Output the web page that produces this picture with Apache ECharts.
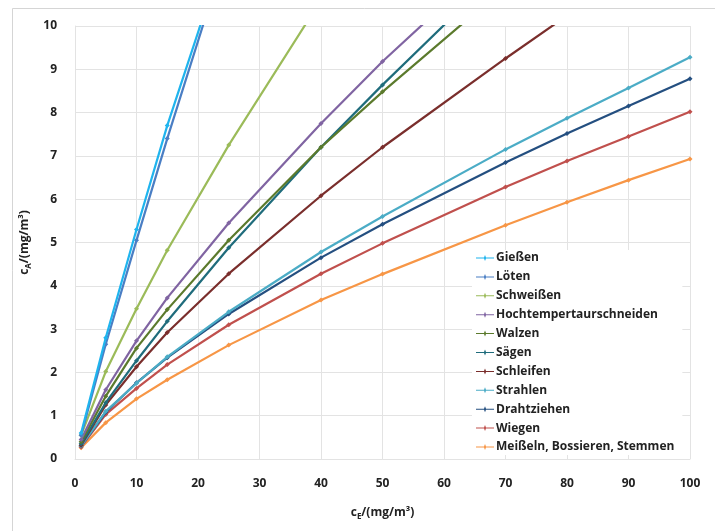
<!DOCTYPE html>
<html><head><meta charset="utf-8">
<script src="https://cdn.jsdelivr.net/npm/echarts@6/dist/echarts.min.js"></script>
<style>html,body{margin:0;padding:0;background:#fff}#c{width:715px;height:531px}</style>
</head><body><div id="c"></div>
<script>
const xValues = [1, 5, 10, 15, 25, 40, 50, 70, 80, 90, 100];
const seriesNames = ["Gießen","Löten","Schweißen","Hochtempertaurschneiden","Walzen","Sägen","Schleifen","Strahlen","Drahtziehen","Wiegen","Meißeln, Bossieren, Stemmen"];
const seriesColors = ["#1FB4EE","#4A7EC4","#9BBB59","#8064A2","#5B7A2C","#1F6C7C","#7A2E2C","#4BACC6","#244F80","#C0504D","#F79646"];
const giessen     = [0.60, 2.80, 5.30, 7.70, 12.0];
const loeten      = [0.55, 2.65, 5.05, 7.40, 11.9];
const schweissen  = [0.55, 2.02, 3.47, 4.82, 7.25, 10.6];
const hochtemp    = [0.45, 1.60, 2.73, 3.72, 5.45, 7.75, 9.18, 11.8];
const walzen      = [0.40, 1.45, 2.56, 3.45, 5.05, 7.20, 8.48, 10.9];
const saegen      = [0.35, 1.30, 2.27, 3.18, 4.88, 7.20, 8.64, 11.4];
const schleifen   = [0.32, 1.25, 2.13, 2.92, 4.28, 6.08, 7.20, 9.25, 10.24];
const strahlen    = [0.30, 1.10, 1.75, 2.36, 3.40, 4.78, 5.60, 7.15, 7.87, 8.57, 9.28];
const drahtziehen = [0.30, 1.08, 1.76, 2.34, 3.35, 4.65, 5.42, 6.85, 7.52, 8.15, 8.78];
const wiegen      = [0.28, 1.03, 1.63, 2.18, 3.10, 4.28, 4.98, 6.28, 6.88, 7.45, 8.02];
const meisseln    = [0.26, 0.84, 1.39, 1.83, 2.63, 3.67, 4.27, 5.40, 5.93, 6.44, 6.93];
const allValues = [giessen, loeten, schweissen, hochtemp, walzen, saegen, schleifen, strahlen, drahtziehen, wiegen, meisseln];
const xTicks = [0,10,20,30,40,50,60,70,80,90,100];
const yTicks = [0,1,2,3,4,5,6,7,8,9,10];

const FONT = '"Open Sans", "Noto Sans", sans-serif';
const chart = echarts.init(document.getElementById('c'), null, {renderer: 'canvas'});
const series = seriesNames.map((n, i) => ({
  name: n, type: 'line', clip: true,
  data: allValues[i].map((v, k) => [xValues[k], v]),
  symbol: 'diamond', symbolSize: 5, showSymbol: true,
  lineStyle: {width: 2.2, color: seriesColors[i]},
  itemStyle: {color: seriesColors[i]},
  emphasis: {disabled: true}, animation: false, z: 3 + (seriesNames.length - i)
}));
chart.setOption({
  animation: false,
  backgroundColor: '#fff',
  textStyle: {fontFamily: FONT},
  graphic: [{type: 'rect', shape: {x: 12.5, y: 8.5, width: 720, height: 540}, style: {fill: 'none', stroke: '#D5D5D5', lineWidth: 1}, z: -1}],
  grid: {left: 75, right: 25, top: 26, bottom: 72, containLabel: false},
  legend: {
    orient: 'vertical', left: 472, top: 250, itemGap: 6.9, itemWidth: 18, itemHeight: 12,
    backgroundColor: '#fff', padding: [2, 8, 2, 4],
    data: seriesNames.map((n, i) => ({name: n, icon: 'path://M0,5.5 L8,5.5 L9,3 L10,5.5 L18,5.5 L18,6.5 L10,6.5 L9,9 L8,6.5 L0,6.5 Z', itemStyle: {color: seriesColors[i]}})),
    textStyle: {fontFamily: FONT, fontWeight: 'bold', fontSize: 12, color: '#222', padding: [0,0,0,-3]}
  },
  xAxis: {
    type: 'value', min: xTicks[0], max: xTicks[xTicks.length-1], interval: 10,
    name: 'c{s|E}/(mg/m³)', nameLocation: 'middle', nameGap: 46,
    nameTextStyle: {fontFamily: FONT, fontWeight: 'bold', fontSize: 12, color: '#222',
      rich: {s: {fontSize: 8, fontWeight: 'bold', color: '#222', verticalAlign: 'bottom', padding: [8,0,0,0]}}},
    axisLine: {show: true, lineStyle: {color: '#E3E3E3'}},
    axisTick: {show: false},
    axisLabel: {fontFamily: FONT, fontWeight: 'bold', fontSize: 12, color: '#222', margin: 19},
    splitLine: {show: true, lineStyle: {color: '#E3E3E3'}}
  },
  yAxis: {
    type: 'value', min: yTicks[0], max: yTicks[yTicks.length-1], interval: 1,
    name: 'c{s|A}/(mg/m³)', nameLocation: 'middle', nameGap: 38, nameRotate: 90,
    nameTextStyle: {fontFamily: FONT, fontWeight: 'bold', fontSize: 12, color: '#222',
      rich: {s: {fontSize: 8, fontWeight: 'bold', color: '#222', padding: [8,0,0,0]}}},
    axisLine: {show: true, lineStyle: {color: '#E3E3E3'}},
    axisTick: {show: false},
    axisLabel: {fontFamily: FONT, fontWeight: 'bold', fontSize: 12, color: '#222', margin: 18},
    splitLine: {show: true, lineStyle: {color: '#E3E3E3'}}
  },
  series: series
});
</script></body></html>
